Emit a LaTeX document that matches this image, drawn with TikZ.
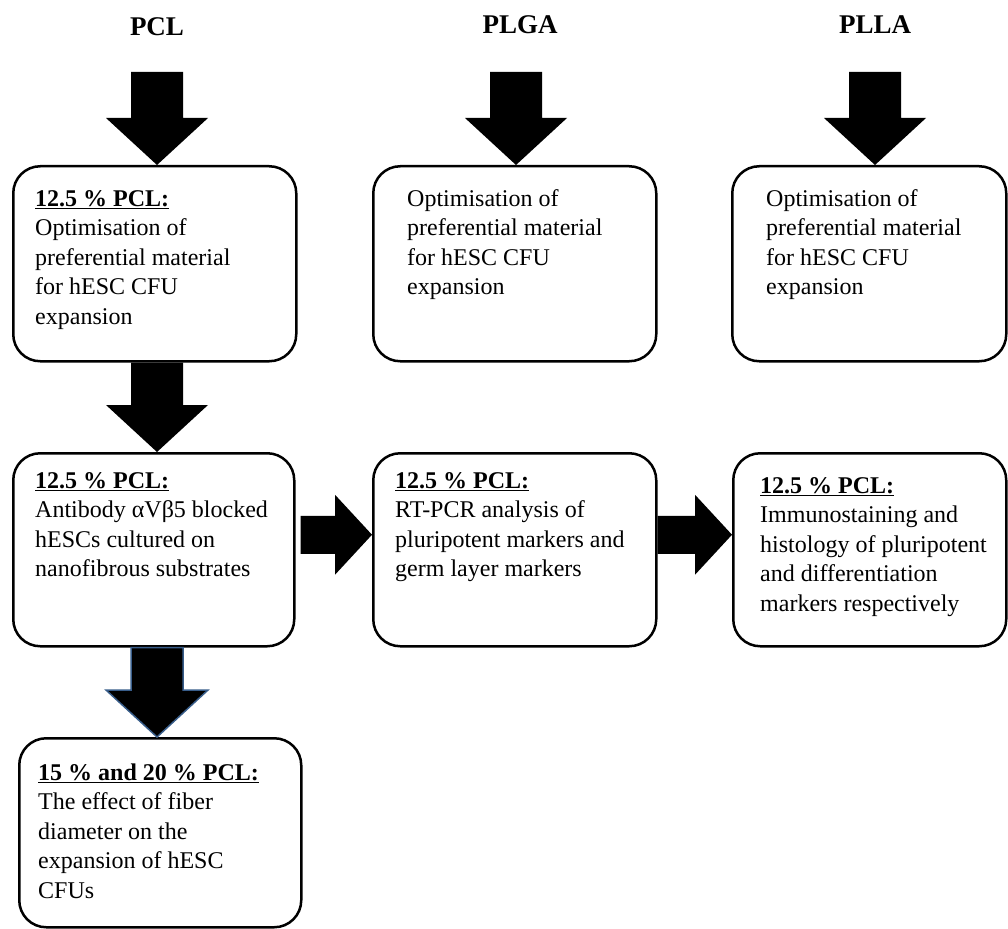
\documentclass[tikz,border=0pt]{standalone}
\usepackage{fontspec}
\setmainfont{Liberation Serif}
\usetikzlibrary{calc}
\definecolor{outlineblue}{HTML}{385D8A}
\newcommand\hdr[1]{\underline{\textbf{#1}}}
\newcommand\tx[1]{\parbox[t]{280pt}{\raggedright #1}}
\tikzset{
  box/.style={draw=black, line width=2.5pt, rounded corners=27pt, fill=white, anchor=north west, inner sep=0pt},
  txt/.style={anchor=base west, inner sep=0pt, font=\fontsize{24}{29.5}\selectfont},
  ttl/.style={inner sep=0pt, font=\fontsize{27}{32}\selectfont\bfseries},
  blk/.style={fill=black}
}
\newcommand\vblk[3][]{\path[blk,#1] let \p1=(#2), \p2=(#3) in
  (\x2-26pt,\y1) -- (\x2+26pt,\y1) -- (\x2+26pt,\y2+47pt) -- (\x2+51pt,\y2+47pt) --
  (\x2,\y2) -- (\x2-51pt,\y2+47pt) -- (\x2-26pt,\y2+47pt) -- cycle;}
\newcommand\hblk[2]{\path[blk] let \p1=(#1), \p2=(#2) in
  (\x1,\y2+19pt) -- (\x2-37pt,\y2+19pt) -- (\x2-37pt,\y2+40pt) -- (\x2,\y2) --
  (\x2-37pt,\y2-40pt) -- (\x2-37pt,\y2-19pt) -- (\x1,\y2-19pt) -- cycle;}
\begin{document}
\begin{tikzpicture}[x=1pt,y=-1pt]
\useasboundingbox (0,0) rectangle (1008,928);
% titles
\node[ttl] (t1) at (157,27) {PCL};
\node[ttl] (t2) at (520,25) {PLGA};
\node[ttl] (t3) at (875,25) {PLLA};
\coordinate (s1) at (157,72);
\coordinate (s2) at (516,72);
\coordinate (s3) at (875,72);
% boxes
\node[box, minimum width=283pt, minimum height=195pt] (b1) at (12,165) {};
\node[box, minimum width=283pt, minimum height=195pt] (bp) at (372,165) {};
\node[box, minimum width=274pt, minimum height=195pt] (bl) at (731,165) {};
\node[box, minimum width=281pt, minimum height=193pt] (b2) at (12,452) {};
\node[box, minimum width=283pt, minimum height=193pt] (b4) at (372,452) {};
\node[box, minimum width=273pt, minimum height=193pt] (b5) at (732,452) {};
\node[box, minimum width=282pt, minimum height=189pt] (b3) at (18,737) {};
% texts
\node[txt] (b1t) at (35,206) {\tx{\hdr{12.5 \% PCL:}\\Optimisation of\\preferential material\\for hESC CFU\\expansion}};
\node[txt] (bpt) at (407,206) {\tx{Optimisation of\\preferential material\\for hESC CFU\\expansion}};
\node[txt] (blt) at (766,206) {\tx{Optimisation of\\preferential material\\for hESC CFU\\expansion}};
\node[txt] (b2t) at (35,488) {\tx{\hdr{12.5 \% PCL:}\\Antibody αVβ5 blocked\\hESCs cultured on\\nanofibrous substrates}};
\node[txt] (b4t) at (395,488) {\tx{\hdr{12.5 \% PCL:}\\RT-PCR analysis of\\pluripotent markers and\\germ layer markers}};
\node[txt] (b5t) at (760,493) {\tx{\hdr{12.5 \% PCL:}\\Immunostaining and\\histology of pluripotent\\and differentiation\\markers respectively}};
\node[txt] (b3t) at (38,780) {\tx{\hdr{15 \% and 20 \% PCL:}\\The effect of fiber\\diameter on the\\expansion of hESC\\CFUs}};
% block arrows
\vblk{s1}{s1 |- b1.north}
\vblk{s2}{s2 |- bp.north}
\vblk{s3}{s3 |- bl.north}
\vblk{b1.south -| s1}{b2.north -| s1}
\vblk[draw=outlineblue, line width=1.5pt]{b2.south -| s1}{b3.north -| s1}
\hblk{$(b2.east)+(5,0)$}{$(b4.west)+(0,-15)$}
\hblk{b4.east}{$(b5.west)+(0,-15)$}
\end{tikzpicture}
\end{document}
